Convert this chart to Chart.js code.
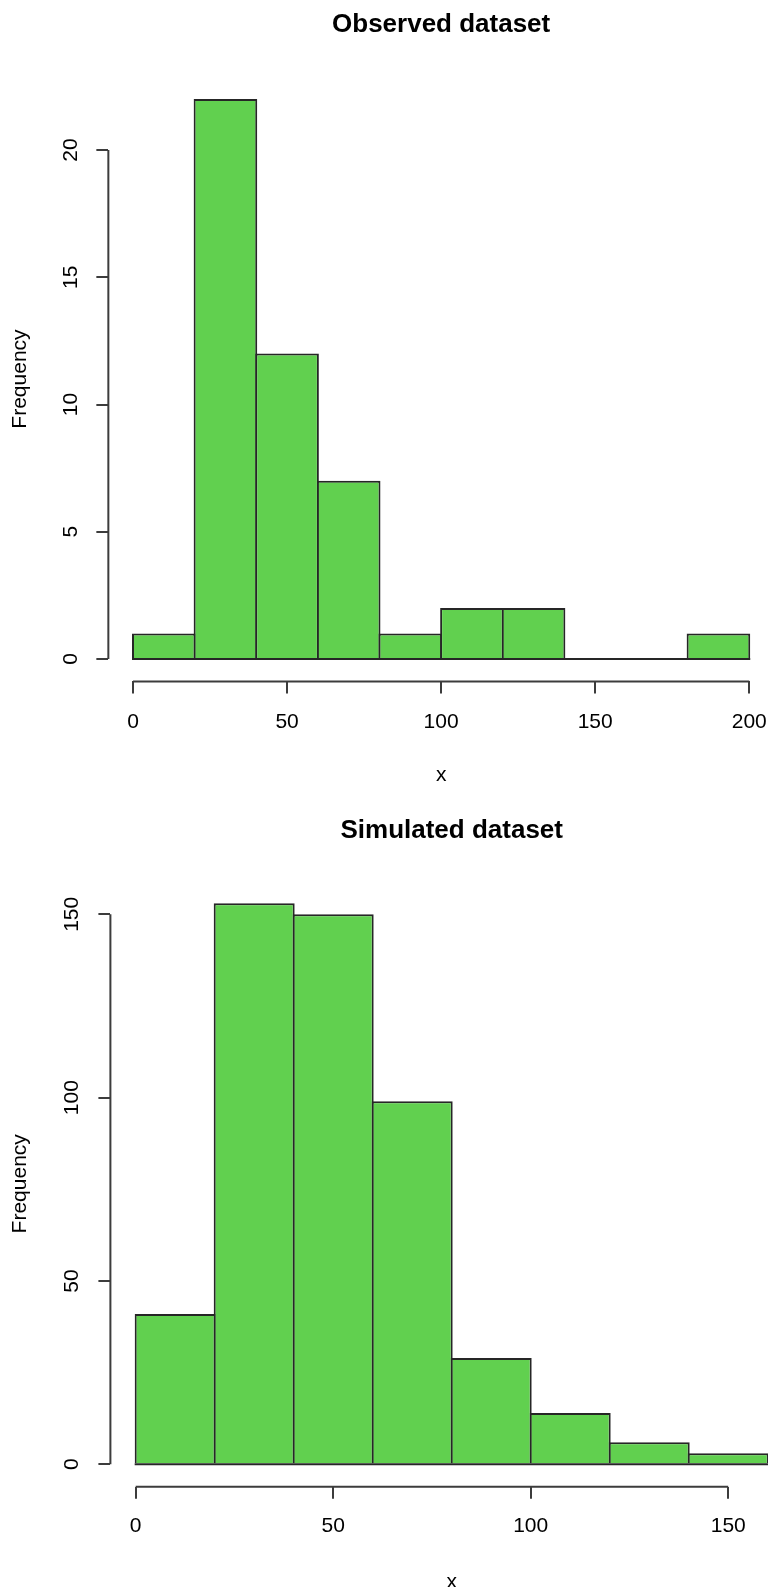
<!DOCTYPE html>
<html>
<head>
<meta charset="utf-8">
<title>Observed and simulated datasets</title>
<script src="https://cdn.jsdelivr.net/npm/chart.js@4.4.1/dist/chart.umd.min.js"></script>
<style>
  html, body { margin: 0; padding: 0; background: #fff; }
  body { position: relative; width: 768px; height: 1587px; overflow: hidden; }
  canvas { position: absolute; left: 0; }
</style>
</head>
<body>
<canvas id="observed" width="828" height="800" style="top:0"></canvas>
<canvas id="simulated" width="847" height="800" style="top:800px"></canvas>
<script>
// Histogram break points and counts per bin
const obsBreaks = [0, 20, 40, 60, 80, 100, 120, 140, 160, 180, 200];
const obsCounts = [1, 22, 12, 7, 1, 2, 2, 0, 0, 1];
const obsXTicks = [0, 50, 100, 150, 200];
const obsYTicks = [0, 5, 10, 15, 20];

const simBreaks = [0, 20, 40, 60, 80, 100, 120, 140, 160];
const simCounts = [41, 153, 150, 99, 29, 14, 6, 3];
const simXTicks = [0, 50, 100, 150];
const simYTicks = [0, 50, 100, 150];

const FONT = "'Liberation Sans', Arial, Helvetica, sans-serif";
const BAR_FILL = '#61D04F';
const BAR_EDGE = '#262626';
const AXIS = '#3c3c3c';
const LW = 2;
const TITLE_SIZE = 26;
const TEXT_SIZE = 21;

// plot regions inside each canvas (px)
const obsFrame = { left: 108.35, right: 773.9, top: 76.7, bottom: 681.4, titleTop: 11.7, yTickPad: 13.3, xTickPad: 18, xTitlePad: 14 };
const simFrame = { left: 110.4, right: 793, top: 80.9, bottom: 686.7, titleTop: 17.5, yTickPad: 8.4, xTickPad: 17.5, xTitlePad: 7 };

// base-R style axes: line only between first and last tick, plus the bin baseline
const rAxes = {
    id: 'rAxes',
    afterDatasetsDraw(chart, args, opts) {
        const { ctx, chartArea, scales: { x, y } } = chart;
        const xt = x.ticks.map(t => t.value);
        const yt = y.ticks.map(t => t.value);
        ctx.save();
        ctx.lineWidth = LW;
        ctx.strokeStyle = AXIS;
        ctx.beginPath();
        ctx.moveTo(x.getPixelForValue(xt[0]), chartArea.bottom);
        ctx.lineTo(x.getPixelForValue(xt[xt.length - 1]), chartArea.bottom);
        ctx.moveTo(chartArea.left, y.getPixelForValue(yt[0]));
        ctx.lineTo(chartArea.left, y.getPixelForValue(yt[yt.length - 1]));
        ctx.stroke();

        const b = opts.breaks;
        const y0 = y.getPixelForValue(0);
        ctx.strokeStyle = BAR_EDGE;
        ctx.beginPath();
        ctx.moveTo(x.getPixelForValue(b[0]) - LW / 2, y0);
        ctx.lineTo(x.getPixelForValue(b[b.length - 1]) + LW / 2, y0);
        ctx.stroke();
        ctx.restore();
    }
};

function histogram(id, title, breaks, counts, xTicks, yTicks, frame) {
    const canvas = document.getElementById(id);
    const W = canvas.width, H = canvas.height;

    // 4% extension of the ranges, like R's default axis style
    const xr = breaks[breaks.length - 1] - breaks[0];
    const xmin = breaks[0] - 0.04 * xr, xmax = breaks[breaks.length - 1] + 0.04 * xr;
    const ymaxData = Math.max(...counts);
    const ymin = -0.04 * ymaxData, ymax = ymaxData * 1.04;

    const points = counts.map((c, i) => ({ x: (breaks[i] + breaks[i + 1]) / 2, y: c }));

    // widen bars by one border width so neighbouring edges overlap
    const binPx = (breaks[1] - breaks[0]) * (frame.right - frame.left) / (xmax - xmin);
    const barPct = (binPx + LW) / binPx;

    return new Chart(canvas, {
        type: 'bar',
        data: {
            datasets: [{
                data: points,
                backgroundColor: BAR_FILL,
                borderColor: BAR_EDGE,
                borderWidth: LW,
                borderSkipped: 'start',
                inflateAmount: 0,
                barPercentage: barPct,
                categoryPercentage: 1
            }]
        },
        options: {
            responsive: false,
            animation: false,
            layout: { padding: { left: 0, right: W - frame.right, top: 0, bottom: 0 } },
            plugins: {
                legend: { display: false },
                tooltip: { enabled: false },
                title: {
                    display: true,
                    text: title,
                    fullSize: false,
                    color: '#000',
                    font: { family: FONT, size: TITLE_SIZE, weight: 'bold', lineHeight: 1 },
                    padding: { top: frame.titleTop, bottom: frame.top - frame.titleTop - TITLE_SIZE }
                },
                rAxes: { breaks: breaks }
            },
            scales: {
                x: {
                    type: 'linear',
                    min: xmin,
                    max: xmax,
                    bounds: 'data',
                    offset: false,
                    grid: { offset: false, drawOnChartArea: false, color: AXIS, lineWidth: LW, tickLength: 12 },
                    border: { display: false },
                    afterBuildTicks: s => { s.ticks = xTicks.map(v => ({ value: v })); },
                    afterFit: s => { s.height = H - frame.bottom; },
                    ticks: {
                        autoSkip: false,
                        maxRotation: 0,
                        padding: frame.xTickPad,
                        color: '#000',
                        font: { family: FONT, size: TEXT_SIZE, lineHeight: 1 }
                    },
                    title: {
                        display: true,
                        text: 'x',
                        color: '#000',
                        font: { family: FONT, size: TEXT_SIZE, lineHeight: 1 },
                        padding: { top: 0, bottom: frame.xTitlePad }
                    }
                },
                y: {
                    type: 'linear',
                    min: ymin,
                    max: ymax,
                    bounds: 'data',
                    grid: { drawOnChartArea: false, color: AXIS, lineWidth: LW, tickLength: 12 },
                    border: { display: false },
                    afterBuildTicks: s => { s.ticks = yTicks.map(v => ({ value: v })); },
                    afterFit: s => { s.width = frame.left; },
                    ticks: {
                        minRotation: 90,
                        maxRotation: 90,
                        crossAlign: 'center',
                        padding: frame.yTickPad,
                        color: '#000',
                        font: { family: FONT, size: TEXT_SIZE, lineHeight: 1 }
                    },
                    title: {
                        display: true,
                        text: 'Frequency',
                        color: '#000',
                        font: { family: FONT, size: TEXT_SIZE, lineHeight: 1 },
                        padding: { top: 10, bottom: 0 }
                    }
                }
            }
        },
        plugins: [rAxes]
    });
}

histogram('observed', 'Observed dataset', obsBreaks, obsCounts, obsXTicks, obsYTicks, obsFrame);
histogram('simulated', 'Simulated dataset', simBreaks, simCounts, simXTicks, simYTicks, simFrame);
</script>
</body>
</html>
